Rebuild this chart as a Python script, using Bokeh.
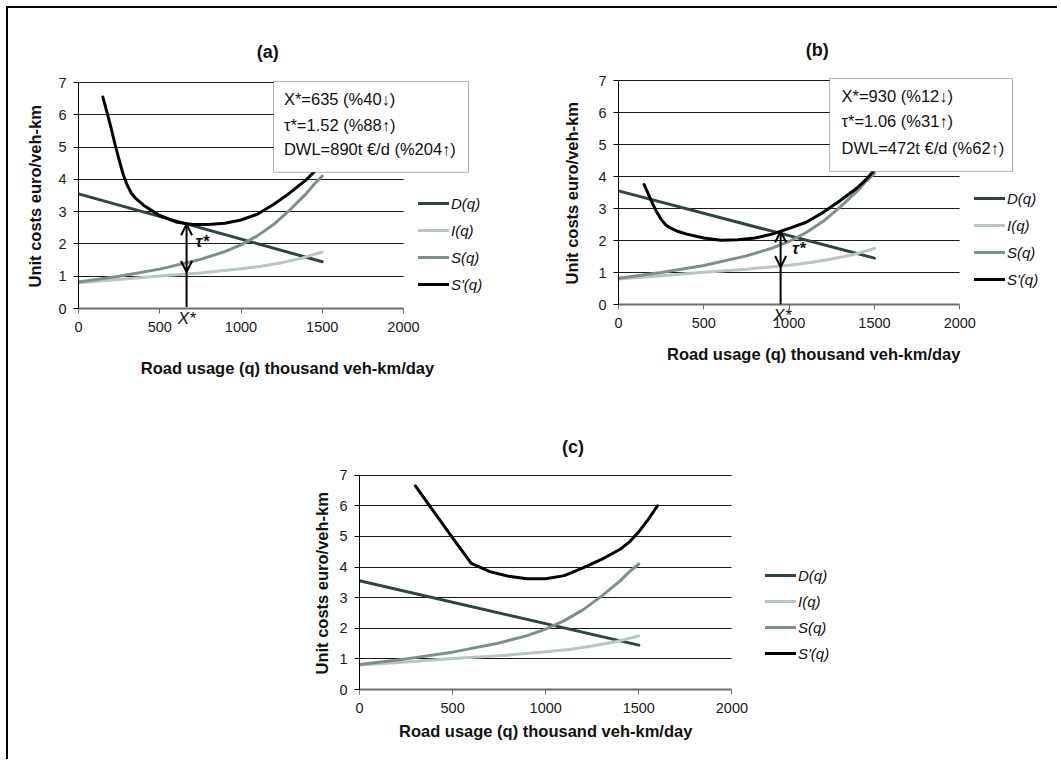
from bokeh.plotting import figure
from bokeh.models import (Range1d, FixedTicker, Legend, LegendItem, Label,
                          BoxAnnotation, Arrow, OpenHead, Column, Row)
from bokeh.embed import file_html
from bokeh.resources import INLINE

# ---------------- data ----------------
q_D = [0, 1500]
D_q = [3.55, 1.45]

q_I = [0, 250, 500, 750, 1000, 1125, 1250, 1375, 1500]
I_q = [0.80, 0.90, 1.01, 1.10, 1.23, 1.31, 1.42, 1.56, 1.75]

q_S = [0, 250, 500, 750, 900, 1000, 1100, 1200, 1300, 1400, 1450, 1500]
S_q = [0.82, 1.00, 1.22, 1.52, 1.76, 1.97, 2.25, 2.60, 3.05, 3.55, 3.85, 4.10]

q_Sp_a = [150, 175, 200, 225, 250, 275, 300, 325, 350, 400, 500, 600, 700, 800, 900, 1000,
          1100, 1200, 1300, 1400, 1450, 1500]
Sp_a = [6.55, 6.08, 5.60, 5.08, 4.60, 4.15, 3.82, 3.57, 3.42, 3.20, 2.88, 2.68, 2.60, 2.60,
        2.64, 2.74, 2.92, 3.22, 3.58, 3.98, 4.23, 4.55]

q_Sp_b = [150, 175, 200, 225, 250, 275, 300, 350, 400, 500, 600, 700, 800, 900, 1000, 1100,
          1200, 1300, 1400, 1450, 1500]
Sp_b = [3.75, 3.45, 3.15, 2.88, 2.66, 2.50, 2.40, 2.28, 2.20, 2.08, 2.01, 2.02, 2.08, 2.20,
        2.38, 2.57, 2.88, 3.25, 3.65, 3.90, 4.20]

q_Sp_c = [300, 400, 500, 600, 700, 800, 900, 1000, 1100, 1200, 1300, 1400, 1450, 1500, 1550, 1600]
Sp_c = [6.65, 5.80, 4.95, 4.12, 3.85, 3.70, 3.62, 3.62, 3.72, 3.97, 4.25, 4.58, 4.82, 5.15, 5.55, 6.00]

x_ticks = [0, 500, 1000, 1500, 2000]
y_ticks = [0, 1, 2, 3, 4, 5, 6, 7]
grid_ticks = [1, 2, 3, 4, 5, 6, 7]
legend_labels = ["D(q)", "I(q)", "S(q)", "S'(q)"]
titles = ["(a)", "(b)", "(c)"]
box_a = ["X*=635 (%40\u2193)", "\u03c4*=1.52 (%88\u2191)", "DWL=890t \u20ac/d (%204\u2191)"]
box_b = ["X*=930 (%12\u2193)", "\u03c4*=1.06 (%31\u2191)", "DWL=472t \u20ac/d (%62\u2191)"]
xstar_q = [665, 950]          # where the optimum is marked (as drawn)
tau_top = [2.61, 2.29]        # S'(q) at the marked optimum
tau_bot = [1.13, 1.17]        # I(q) at the marked optimum

X_LABEL = "Road usage (q) thousand veh-km/day"
Y_LABEL = "Unit costs  euro/veh-km"

FONT = "Liberation Sans"
COL_D = "#2e4545"
COL_I = "#b9c6c3"
COL_S = "#7e908e"
COL_SP = "#000000"
TXT = "#111111"


def make_panel(g, sp_q, sp_v, title):
    fl, ft, fw, fh = g["fig"]
    frame_l, frame_r, y0 = g["frame_left"], g["frame_right"], g["y0"]
    ppx, ppy = g["ppx"], g["ppy"]
    frame_t = int(round(y0 - 7.1 * ppy))
    x_end = (frame_r - frame_l) / ppx
    y_end = (y0 - frame_t) / ppy
    p = figure(width=fw, height=fh, x_range=Range1d(0, x_end), y_range=Range1d(0, y_end),
               output_backend="svg", toolbar_location=None,
               min_border_left=frame_l - fl, min_border_right=fl + fw - frame_r,
               min_border_top=frame_t - ft, min_border_bottom=ft + fh - y0)
    p.outline_line_color = None
    p.background_fill_color = "white"
    p.border_fill_color = "white"

    # axes
    p.xaxis.ticker = FixedTicker(ticks=x_ticks)
    p.xaxis.bounds = (0, 2000)
    p.yaxis.ticker = FixedTicker(ticks=y_ticks)
    p.yaxis.bounds = (0, 7)
    for ax in (p.xaxis[0], p.yaxis[0]):
        ax.minor_tick_line_color = None
        ax.major_tick_in = 0
        ax.major_tick_out = 5
        ax.major_label_text_font = FONT
        ax.major_label_text_font_size = "14.5px"
        ax.major_label_text_color = "#1a1a1a"
        ax.axis_label_text_font = FONT
        ax.axis_label_text_font_style = "bold"
        ax.axis_label_text_font_size = "16.5px"
        ax.axis_label_text_color = TXT
    p.xaxis.axis_line_color = "#6e6e6e"
    p.xaxis.axis_line_width = 2
    p.xaxis.major_tick_line_color = "#6e6e6e"
    p.yaxis.axis_line_color = "#000000"
    p.yaxis.major_tick_line_color = "#000000"
    p.xaxis.major_label_standoff = 8
    p.yaxis.major_label_standoff = 7
    p.yaxis.axis_label = Y_LABEL
    p.yaxis.axis_label_standoff = g["ylab_standoff"]

    p.xgrid.visible = False
    p.ygrid.ticker = FixedTicker(ticks=grid_ticks)
    p.ygrid.cross_bounds = (0, 2000)
    p.ygrid.grid_line_color = "#1a1a1a"
    p.ygrid.grid_line_width = 1

    kw = dict(line_width=3, line_cap="round", line_join="round")
    rD = p.line(q_D, D_q, line_color=COL_D, **kw)
    rI = p.line(q_I, I_q, line_color=COL_I, **kw)
    rS = p.line(q_S, S_q, line_color=COL_S, **kw)
    rSp = p.line(sp_q, sp_v, line_color=COL_SP, **kw)

    lx, ly, sp = g["legend"]
    legend = Legend(items=[LegendItem(label=lab, renderers=[r]) for lab, r in
                           zip(legend_labels, [rD, rI, rS, rSp])],
                    location=(lx, ly), orientation="vertical", padding=0, margin=0,
                    spacing=sp, glyph_width=31, glyph_height=20, label_height=20,
                    label_standoff=2, background_fill_alpha=0, border_line_color=None,
                    label_text_font=FONT, label_text_font_style="italic",
                    label_text_font_size="15px", label_text_color=TXT)
    p.add_layout(legend)

    # panel title, placed above the frame (side panel -> not clipped)
    tx, ty = g["title"]
    p.add_layout(Label(x=tx, y=ty, text=title, text_align="center", text_baseline="middle",
                       text_font=FONT, text_font_style="bold", text_font_size="18px",
                       text_color=TXT), "above")
    # x-axis title, placed below the axis where the original has it
    lx2, ly2 = g["xlabel"]
    p.add_layout(Label(x=lx2, y=ly2, text=X_LABEL, text_align="center", text_baseline="middle",
                       text_font=FONT, text_font_style="bold", text_font_size="16.5px",
                       text_color=TXT), "below")
    return p


geo_a = dict(fig=(8, 8, 527, 412), frame_left=78, frame_right=535, y0=308,
             ppx=(403 - 78) / 2000, ppy=(308 - 82) / 7, ylab_standoff=11,
             legend=(340, 14, 7), title=(1164, 7.93), xlabel=(1286, -1.83))
geo_b = dict(fig=(535, 8, 517, 412), frame_left=618, frame_right=1052, y0=304,
             ppx=(959.3 - 618) / 2000, ppy=(304 - 80) / 7, ylab_standoff=14,
             legend=(356, 15, 7), title=(1165, 7.94), xlabel=(1144, -1.54))
geo_c = dict(fig=(8, 420, 1044, 341), frame_left=359, frame_right=900, y0=689,
             ppx=(638.3 - 359) / 1500, ppy=(689 - 474.7) / 7, ylab_standoff=5,
             legend=(406, 26, 6), title=(1147, 7.92), xlabel=(1000, -1.34))

pa = make_panel(geo_a, q_Sp_a, Sp_a, titles[0])
pb = make_panel(geo_b, q_Sp_b, Sp_b, titles[1])
pc = make_panel(geo_c, q_Sp_c, Sp_c, titles[2])


def annotate(p, i, box, box_lines, tau_pos, xs_pos, low_end):
    l, r, t, b = box
    p.add_layout(BoxAnnotation(left=l, right=r, top=t, bottom=b, fill_color="white",
                               fill_alpha=1, line_color="#000000", line_width=1))
    x0, ys = box_lines
    for txt, yy in zip([box_a, box_b][i], ys):
        p.add_layout(Label(x=x0, y=yy, text=txt, text_baseline="middle", text_font=FONT,
                           text_font_size="16.5px", text_color=TXT))
    q = xstar_q[i]
    p.add_layout(Arrow(start=OpenHead(size=11, line_width=2, line_color="black"),
                       end=OpenHead(size=11, line_width=2, line_color="black"),
                       x_start=q, y_start=tau_bot[i], x_end=q, y_end=tau_top[i],
                       line_width=2, line_color="black"))
    p.add_layout(Arrow(start=None, end=None, x_start=q, y_start=low_end, x_end=q,
                       y_end=tau_bot[i], line_width=2, line_color="black"))
    p.add_layout(Label(x=tau_pos[0], y=tau_pos[1], text="\u03c4*", text_baseline="middle",
                       text_align="center", text_font=FONT, text_font_style="bold italic",
                       text_font_size="17px", text_color=TXT))
    # X* under the axis (side panel -> not clipped)
    p.add_layout(Label(x=xs_pos[0], y=xs_pos[1], text="X*", text_baseline="middle",
                       text_align="center", text_font=FONT, text_font_style="italic",
                       text_font_size="17px", text_color=TXT), "below")


annotate(pa, 0, (1200, 2400, 7.03, 4.22), (1264, [6.50, 5.67, 4.93]), (762, 2.06), (666, -0.31), 0.05)
annotate(pb, 1, (1237, 2309, 7.06, 4.16), (1307, [6.53, 5.72, 4.88]), (1057, 1.76), (960, -0.34), 0.0)

root = Column(children=[Row(children=[Column(children=[pa]), Column(children=[pb])]), pc],
              styles={"margin-left": "8px", "margin-top": "8px", "padding-right": "7px",
                      "box-shadow": "-2px -2px 0 0 #000000"})

open("out.html", "w").write(file_html(root, INLINE))
